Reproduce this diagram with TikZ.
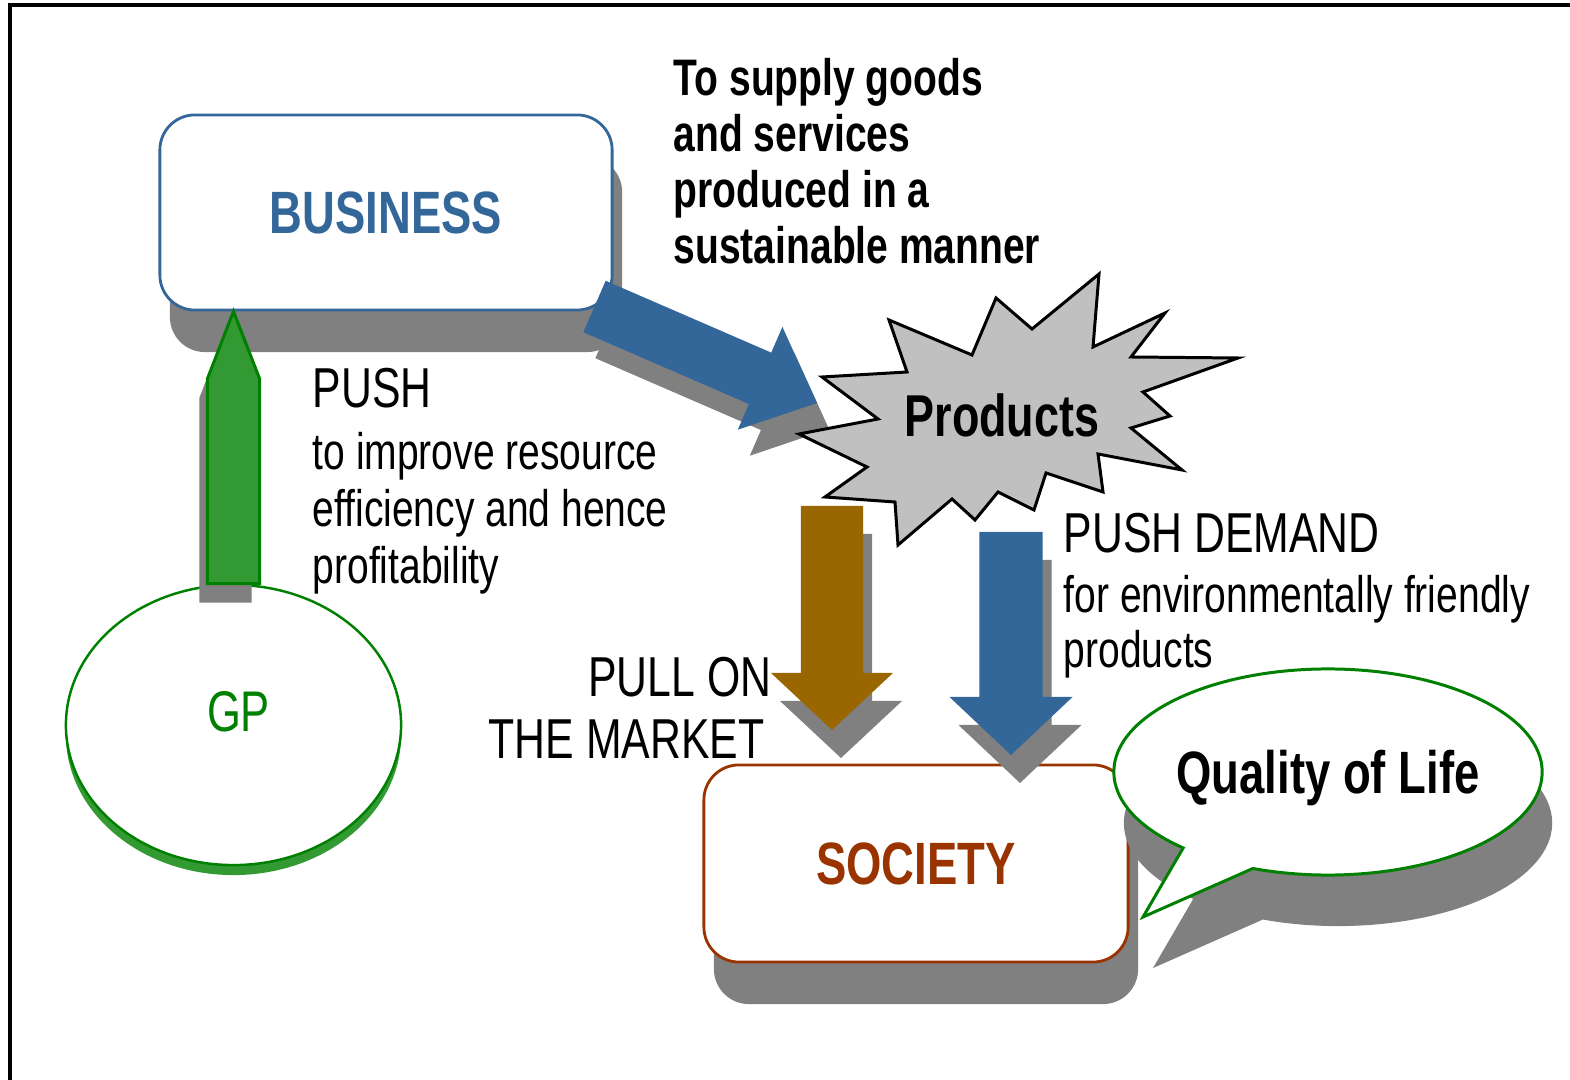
\documentclass[tikz,border=0pt]{standalone}
\usepackage{fontspec}
\setmainfont{Liberation Sans}[FakeStretch=0.76]
\usetikzlibrary{positioning,calc,shadows,shapes.geometric,shapes.callouts}

\definecolor{bizblue}{HTML}{336699}
\definecolor{socred}{HTML}{993300}
\definecolor{pullbrown}{HTML}{996600}
\definecolor{gpgreen}{HTML}{008000}
\definecolor{gpfill}{HTML}{339933}
\definecolor{burstgray}{HTML}{C0C0C0}
\definecolor{shadegray}{HTML}{808080}

% block arrow: style, tail, tip, half shaft, half head, head length
\newcommand{\fatarrow}[6]{%
	\coordinate (ahead) at ($(#3)!#6!(#2)$);
	\path[#1] ($(#2)!#4!90:(#3)$) -- ($(ahead)!#4!90:(#3)$) -- ($(ahead)!#5!90:(#3)$)
		-- (#3) -- ($(ahead)!#5!-90:(#3)$) -- ($(ahead)!#4!-90:(#3)$) -- ($(#2)!#4!-90:(#3)$) -- cycle;
}

\begin{document}
\begin{tikzpicture}%
	[x=0.01cm, y=-0.01cm,
	box/.style = {rectangle, rounded corners=0.35cm, draw, fill=white, line width=0.8pt,
		minimum width=4.52cm, minimum height=1.95cm, font=\bfseries\fontsize{17}{20}\selectfont,
		drop shadow={shadow xshift=0.1cm, shadow yshift=-0.42cm, opacity=1, fill=shadegray}},
	headtxt/.style = {inner sep=0pt, align=left, font=\fontsize{16}{17.6}\selectfont},
	bodytxt/.style = {inner sep=0pt, align=left, font=\fontsize{14.6}{16.2}\selectfont},
	boldtxt/.style = {inner sep=0pt, align=left, font=\bfseries\fontsize{14.6}{15.9}\selectfont},
	darkback/.style = {fill=shadegray}]
	\useasboundingbox (0,0) rectangle (1570,1080);
	\draw[line width=1.1pt] (10,1080) -- (10,5) -- (1570,5);
	
	\node[ellipse, draw=gpgreen, fill=white, line width=0.7pt, minimum width=3.35cm, minimum height=2.8cm,
		drop shadow={shadow xshift=0cm, shadow yshift=-0.1cm, opacity=1, fill=gpfill},
		label={[text=gpgreen, font=\fontsize{16.3}{18}\selectfont, xshift=0.05cm, yshift=0.13cm]center:GP}] (gp) at (233.5,725) {};
	\node[box, draw=bizblue, text=bizblue] (business) at (386,212.5) {BUSINESS};
	
	% GP pushes business
	\coordinate (gpout) at (gp.north);
	\coordinate (bizin) at (business.south -| gp.north);
	\fatarrow{darkback, transform canvas={shift={(-8,19)}}}{gpout}{bizin}{0.26cm}{0.26cm}{0.67cm}
	\fatarrow{fill=gpfill, draw=gpgreen, line width=0.85pt}{gpout}{bizin}{0.26cm}{0.26cm}{0.67cm}
	
	% business supplies products
	\coordinate (bizout) at (594.5,306.5);
	\coordinate (prodin) at (817,403);
	\fatarrow{darkback, transform canvas={shift={(12,26)}}}{bizout}{prodin}{0.28cm}{0.56cm}{0.62cm}
	\fatarrow{fill=bizblue}{bizout}{prodin}{0.28cm}{0.56cm}{0.62cm}
	
	\draw[fill=burstgray, line width=0.85pt] (889,320) -- (972,355) -- (996,298) -- (1032,329) -- (1099,274)
		-- (1093,347) -- (1165,313) -- (1131,357) -- (1238,358) -- (1143,392) -- (1170,416) -- (1131,428)
		-- (1182,470) -- (1098,454) -- (1103,492) -- (1046,473) -- (1034,510) -- (998,492) -- (975,520)
		-- (952,499) -- (898,545) -- (895,502) -- (825,497) -- (867,467) -- (799,434) -- (878,419)
		-- (822,377) -- (907,372) -- cycle;
	\node[font=\bfseries\fontsize{16.8}{20}\selectfont] (products) at (1002,415) {Products};
	
	\node[box, draw=socred, text=socred, minimum width=4.24cm, minimum height=1.97cm] (society) at (916,863.5) {SOCIETY};
	\node[ellipse callout, draw=gpgreen, fill=white, line width=0.85pt, inner sep=0pt, minimum width=4.26cm, minimum height=2.06cm,
		callout absolute pointer={(1143,917)}, callout pointer arc=22, text depth=0pt,
		font=\bfseries\fontsize{17}{20}\selectfont,
		drop shadow={shadow xshift=0.1cm, shadow yshift=-0.51cm, opacity=1, fill=shadegray}] (quality) at (1328,772) {Quality of Life};
	
	\node[boldtxt, anchor=north west] (supply) at (673,58) {To supply goods\\and services\\produced in a\\sustainable manner};
	\node[headtxt, anchor=north west] (push) at (312,368) {PUSH};
	\node[bodytxt, below=0.22cm of push.south west, anchor=north west] (pushtxt) {to improve resource\\efficiency and hence\\profitability};
	\node[headtxt, anchor=north west] (demand) at (1063,513) {PUSH DEMAND};
	\node[bodytxt, font=\fontsize{14.6}{15.6}\selectfont, below=0.2cm of demand.south west, anchor=north west] (demandtxt) {for environmentally friendly\\products};
	\node[headtxt, align=right, anchor=north east] (pull) at (772,657) {PULL ON\\THE MARKET\hspace*{0.07cm}};
	
	% products meet society
	\coordinate (pulltop) at (832,506);
	\coordinate (pullend) at (832,730);
	\coordinate (demtop) at (1011,532);
	\coordinate (demend) at (1011,755);
	\fatarrow{darkback, transform canvas={shift={(9,28)}}}{pulltop}{pullend}{0.31cm}{0.61cm}{0.57cm}
	\fatarrow{fill=pullbrown}{pulltop}{pullend}{0.31cm}{0.61cm}{0.57cm}
	\fatarrow{darkback, transform canvas={shift={(9,28)}}}{demtop}{demend}{0.315cm}{0.615cm}{0.58cm}
	\fatarrow{fill=bizblue}{demtop}{demend}{0.315cm}{0.615cm}{0.58cm}
\end{tikzpicture}
\end{document}
